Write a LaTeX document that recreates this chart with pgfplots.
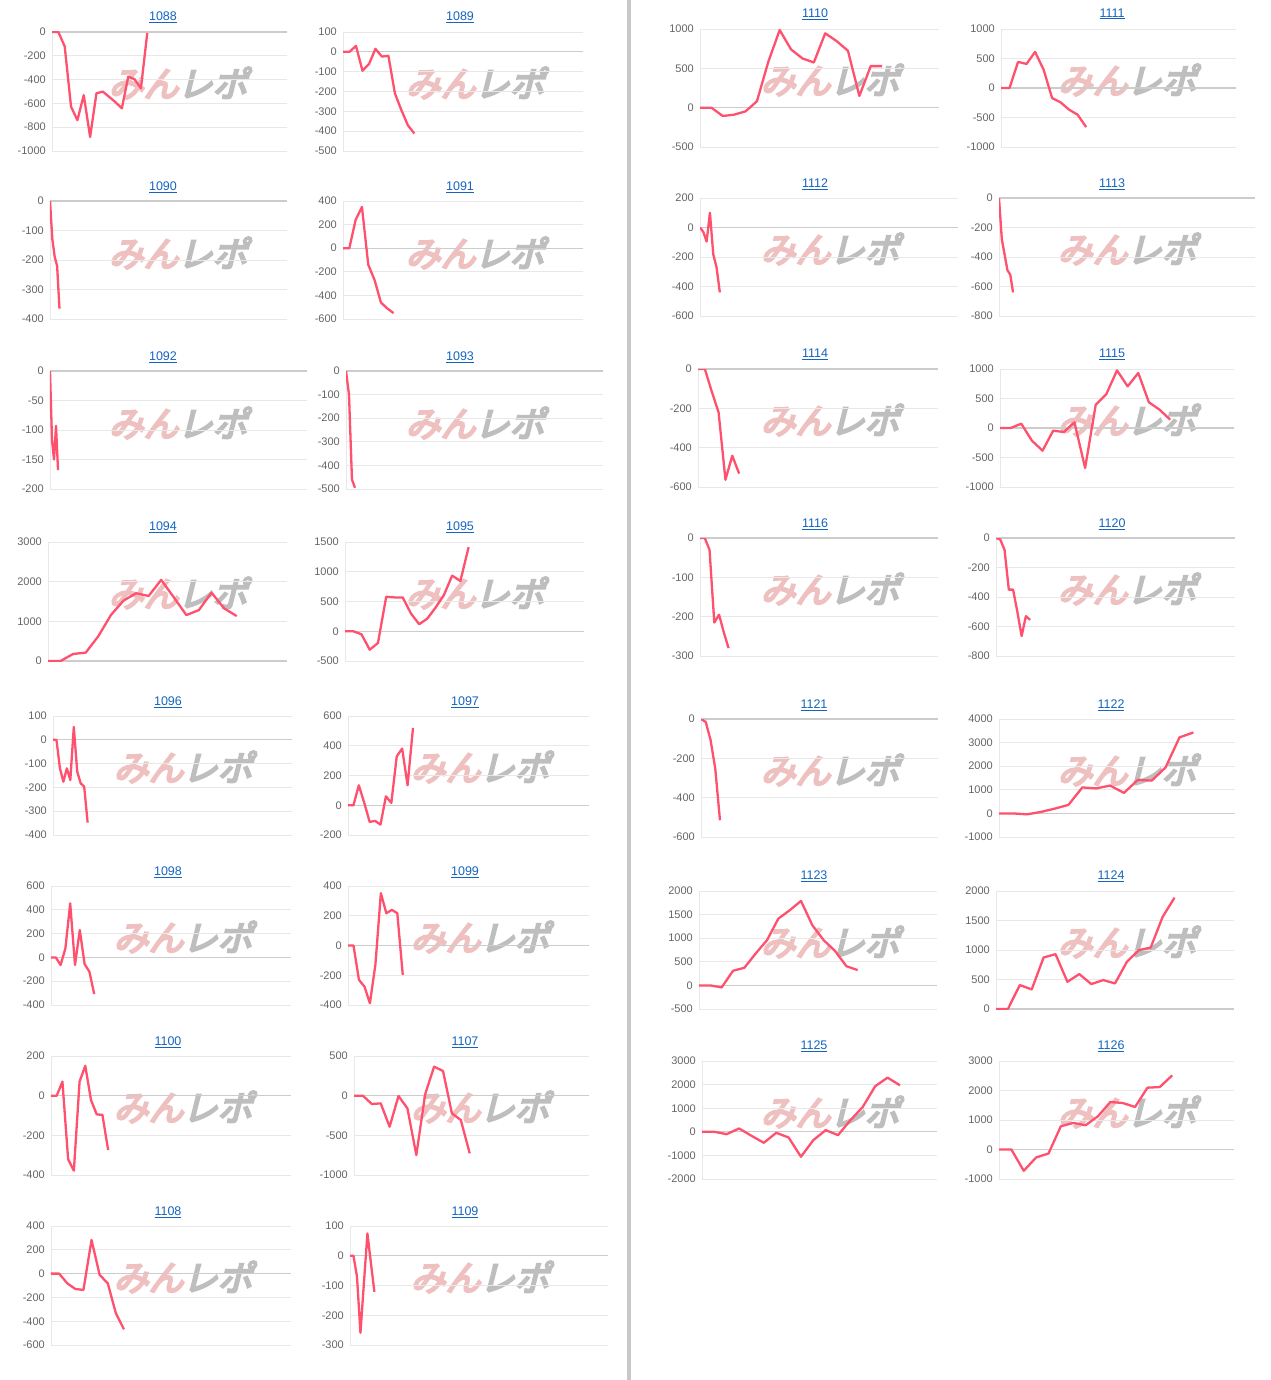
\documentclass[border=0pt]{standalone}
\usepackage{fontspec}
\setmainfont{Liberation Sans}
\newfontfamily\jp[FakeSlant=0.25, FakeBold=6]{Noto Sans CJK JP}
\usepackage{pgfplots}
\pgfplotsset{compat=1.18}
\definecolor{gridc}{RGB}{232,232,232}
\definecolor{zeroc}{RGB}{204,204,204}
\definecolor{tickc}{RGB}{102,102,102}
\definecolor{linec}{RGB}{255,80,110}
\definecolor{titlec}{RGB}{21,101,192}
\definecolor{sepc}{RGB}{200,200,200}
\definecolor{wmpink}{RGB}{238,192,192}
\definecolor{wmgray}{RGB}{190,190,190}
\pgfplotsset{
  mc/.style={scale only axis, anchor=south west, xmin=0,
    axis x line=none, axis y line=left,
    axis line style={-, draw=gridc, line width=0.9pt},
    ymajorgrids, grid style={draw=gridc, line width=0.9pt},
    major tick length=0pt, tick style={draw=none},
    /pgf/number format/assume math mode=true,
    /pgf/number format/1000 sep={},
    yticklabel style={font=\fontsize{11}{11}\selectfont, text=tickc, inner sep=2pt, xshift=-4pt},
    extra y ticks={0}, extra y tick labels={},
    extra y tick style={grid style={draw=zeroc, line width=1.3pt}},
  },
  mcbox/.style n args={4}{at={(#1pt,-#2pt)}, width=#3pt, height=#4pt},
  ml/.style={color=linec, line width=2.3pt, line join=round, mark=none},
}
\tikzset{ttl/.style={font=\fontsize{12.5}{12.5}\selectfont, text=titlec, inner sep=0pt}}
\newcommand{\ttl}[3]{\node[ttl] at (#1pt,-#2pt-2pt) {\underline{#3}};}
\newcommand{\wm}[2]{\node[inner sep=0pt, font=\jp\fontsize{35}{35}\selectfont] at (#1pt,-#2pt) {\textcolor{wmpink}{みん}\kern-1pt\textcolor{wmgray}{レポ}};}
\begin{document}
\begin{tikzpicture}
\useasboundingbox (0,0) rectangle (1270pt,-1380pt);
\fill[white] (0,0) rectangle (1270pt,-1380pt);
\fill[sepc] (627pt,0) rectangle (631pt,-1380pt);

% ---------- left block ----------
% 1088
\wm{178}{83}
\begin{axis}[mc, mcbox={52}{151}{235}{119}, xmax=37, ymin=-1000, ymax=0, ytick={-1000,-800,...,0}]
\addplot[ml] coordinates {(0,0)(1,0)(2,-121)(3,-628)(4,-741)(5,-530)(6,-882)(7,-515)(8,-501)(9,-545)(10,-590)(11,-642)(12,-375)(13,-397)(14,-473)(15,-8)};
\end{axis}
\ttl{163}{15}{1088}
% 1089
\wm{475}{83}
\begin{axis}[mc, mcbox={343}{151}{240}{119}, xmax=37, ymin=-500, ymax=100, ytick={-500,-400,...,100}]
\addplot[ml] coordinates {(0,0)(1,0)(2,30)(3,-95)(4,-62)(5,15)(6,-24)(7,-20)(8,-209)(9,-294)(10,-370)(11,-412)};
\end{axis}
\ttl{460}{15}{1089}
% 1090
\wm{178}{253}
\begin{axis}[mc, mcbox={50}{319}{237}{118}, xmax=100, ymin=-400, ymax=0, ytick={-400,-300,...,0}]
\addplot[ml] coordinates {(0,0)(1,-130)(2,-190)(3,-220)(4,-365)};
\end{axis}
\ttl{163}{185}{1090}
% 1091
\wm{475}{253}
\begin{axis}[mc, mcbox={343}{319}{240}{118}, xmax=38, ymin=-600, ymax=400, ytick={-600,-400,...,400}]
\addplot[ml] coordinates {(0,0)(1,0)(2,240)(3,350)(4,-140)(5,-270)(6,-460)(7,-510)(8,-550)};
\end{axis}
\ttl{460}{185}{1091}
% 1092
\wm{178}{423}
\begin{axis}[mc, mcbox={50}{489}{257}{118}, xmax=128, ymin=-200, ymax=0, ytick={-200,-150,...,0}]
\addplot[ml] coordinates {(0,0)(1,-117)(2,-150)(3,-93)(4,-168)};
\end{axis}
\ttl{163}{355}{1092}
% 1093
\wm{475}{423}
\begin{axis}[mc, mcbox={346}{489}{257}{118}, xmax=86, ymin=-500, ymax=0, ytick={-500,-400,...,0}]
\addplot[ml] coordinates {(0,0)(1,-100)(2,-460)(3,-495)};
\end{axis}
\ttl{460}{355}{1093}
% 1094
\wm{178}{593}
\begin{axis}[mc, mcbox={48}{661}{239}{119}, xmax=19, ymin=0, ymax=3000, ytick={0,1000,2000,3000}]
\addplot[ml] coordinates {(0,0)(1,0)(2,178)(3,211)(4,625)(5,1158)(6,1522)(7,1708)(8,1640)(9,2046)(10,1606)(11,1158)(12,1285)(13,1724)(14,1327)(15,1133)};
\end{axis}
\ttl{163}{525}{1094}
% 1095
\wm{475}{593}
\begin{axis}[mc, mcbox={345}{661}{239}{119}, xmax=29, ymin=-500, ymax=1500, ytick={-500,0,500,1000,1500}]
\addplot[ml] coordinates {(0,0)(1,0)(2,-51)(3,-310)(4,-197)(5,580)(6,569)(7,569)(8,299)(9,118)(10,214)(11,400)(12,608)(13,935)(14,845)(15,1414)};
\end{axis}
\ttl{460}{525}{1095}
% 1096
\wm{183}{767}
\begin{axis}[mc, mcbox={53}{835}{239}{119}, xmax=69, ymin=-400, ymax=100, ytick={-400,-300,...,100}]
\addplot[ml] coordinates {(0,0)(1,0)(2,-120)(3,-176)(4,-120)(5,-169)(6,54)(7,-134)(8,-183)(9,-197)(10,-348)};
\end{axis}
\ttl{168}{700}{1096}
% 1097
\wm{480}{767}
\begin{axis}[mc, mcbox={348}{835}{241}{119}, xmax=44.5, ymin=-200, ymax=600, ytick={-200,0,...,600}]
\addplot[ml] coordinates {(0,0)(1,0)(2,134)(3,16)(4,-112)(5,-105)(6,-130)(7,60)(8,16)(9,329)(10,381)(11,134)(12,520)};
\end{axis}
\ttl{465}{700}{1097}
% 1098
\wm{183}{937}
\begin{axis}[mc, mcbox={51}{1005}{240}{119}, xmax=50, ymin=-400, ymax=600, ytick={-400,-200,...,600}]
\addplot[ml] coordinates {(0,0)(1,0)(2,-64)(3,76)(4,454)(5,-64)(6,230)(7,-56)(8,-120)(9,-308)};
\end{axis}
\ttl{168}{870}{1098}
% 1099
\wm{480}{937}
\begin{axis}[mc, mcbox={348}{1005}{241}{119}, xmax=44, ymin=-400, ymax=400, ytick={-400,-200,...,400}]
\addplot[ml] coordinates {(0,0)(1,0)(2,-231)(3,-276)(4,-388)(5,-130)(6,352)(7,217)(8,240)(9,217)(10,-197)};
\end{axis}
\ttl{465}{870}{1099}
% 1100
\wm{183}{1107}
\begin{axis}[mc, mcbox={51}{1175}{240}{119}, xmax=42, ymin=-400, ymax=200, ytick={-400,-200,0,200}]
\addplot[ml] coordinates {(0,0)(1,0)(2,71)(3,-321)(4,-378)(5,71)(6,151)(7,-22)(8,-94)(9,-97)(10,-274)};
\end{axis}
\ttl{168}{1040}{1100}
% 1107
\wm{480}{1107}
\begin{axis}[mc, mcbox={354}{1175}{235}{119}, xmax=26.4, ymin=-1000, ymax=500, ytick={-1000,-500,0,500}]
\addplot[ml] coordinates {(0,0)(1,0)(2,-105)(3,-97)(4,-391)(5,-4)(6,-160)(7,-748)(8,21)(9,366)(10,311)(11,-223)(12,-307)(13,-727)};
\end{axis}
\ttl{465}{1040}{1107}
% 1108
\wm{183}{1277}
\begin{axis}[mc, mcbox={51}{1345}{240}{119}, xmax=29.6, ymin=-600, ymax=400, ytick={-600,-400,...,400}]
\addplot[ml] coordinates {(0,0)(1,0)(2,-81)(3,-129)(4,-137)(5,283)(6,-11)(7,-81)(8,-333)(9,-468)};
\end{axis}
\ttl{168}{1210}{1108}
% 1109
\wm{480}{1277}
\begin{axis}[mc, mcbox={350}{1345}{258}{119}, xmax=74, ymin=-300, ymax=100, ytick={-300,-200,...,100}]
\addplot[ml] coordinates {(0,0)(1,0)(2,-70)(3,-259)(4,-90)(5,75)(6,-25)(7,-121)};
\end{axis}
\ttl{465}{1210}{1109}

% ---------- right block ----------
% 1110
\wm{830}{80}
\begin{axis}[mc, mcbox={700}{147}{239}{118}, xmax=21, ymin=-500, ymax=1000, ytick={-500,0,500,1000}]
\addplot[ml] coordinates {(0,0)(1,0)(2,-106)(3,-89)(4,-47)(5,81)(6,583)(7,987)(8,740)(9,626)(10,574)(11,945)(12,847)(13,723)(14,149)(15,528)(16,528)};
\end{axis}
\ttl{815}{12}{1110}
% 1111
\wm{1127}{80}
\begin{axis}[mc, mcbox={1001}{147}{235}{118}, xmax=27.6, ymin=-1000, ymax=1000, ytick={-1000,-500,...,1000}]
\addplot[ml] coordinates {(0,0)(1,0)(2,442)(3,408)(4,612)(5,312)(6,-170)(7,-244)(8,-368)(9,-453)(10,-663)};
\end{axis}
\ttl{1112}{12}{1111}
% 1112
\wm{830}{249}
\begin{axis}[mc, mcbox={700}{316}{258}{118}, xmax=78, ymin=-600, ymax=200, ytick={-600,-400,...,200}]
\addplot[ml] coordinates {(0,0)(1,-30)(2,-95)(3,100)(4,-180)(5,-270)(6,-440)};
\end{axis}
\ttl{815}{182}{1112}
% 1113
\wm{1127}{249}
\begin{axis}[mc, mcbox={999}{316}{256}{118}, xmax=91, ymin=-800, ymax=0, ytick={-800,-600,...,0}]
\addplot[ml] coordinates {(0,0)(1,-280)(2,-385)(3,-490)(4,-520)(5,-640)};
\end{axis}
\ttl{1112}{182}{1113}
% 1114
\wm{830}{420}
\begin{axis}[mc, mcbox={698}{487}{240}{118}, xmax=35, ymin=-600, ymax=0, ytick={-600,-400,...,0}]
\addplot[ml] coordinates {(0,0)(1,0)(2,-114)(3,-220)(4,-563)(5,-441)(6,-532)};
\end{axis}
\ttl{815}{352}{1114}
% 1115
\wm{1127}{420}
\begin{axis}[mc, mcbox={1000}{487}{234}{118}, xmax=22, ymin=-1000, ymax=1000, ytick={-1000,-500,...,1000}]
\addplot[ml] coordinates {(0,0)(1,0)(2,73)(3,-215)(4,-384)(5,-45)(6,-68)(7,96)(8,-678)(9,395)(10,576)(11,977)(12,706)(13,932)(14,435)(15,311)(16,141)};
\end{axis}
\ttl{1112}{352}{1115}
% 1116
\wm{830}{589}
\begin{axis}[mc, mcbox={700}{656}{238}{118}, xmax=50, ymin=-300, ymax=0, ytick={-300,-200,...,0}]
\addplot[ml] coordinates {(0,0)(1,0)(2,-30)(3,-215)(4,-195)(5,-240)(6,-280)};
\end{axis}
\ttl{815}{522}{1116}
% 1120
\wm{1127}{589}
\begin{axis}[mc, mcbox={996}{656}{239}{118}, xmax=56, ymin=-800, ymax=0, ytick={-800,-600,...,0}]
\addplot[ml] coordinates {(0,0)(1,-10)(2,-80)(3,-350)(4,-350)(5,-500)(6,-665)(7,-530)(8,-555)};
\end{axis}
\ttl{1112}{522}{1120}
% 1121
\wm{830}{770}
\begin{axis}[mc, mcbox={701}{837}{237}{118}, xmax=50, ymin=-600, ymax=0, ytick={-600,-400,...,0}]
\addplot[ml] coordinates {(0,0)(1,-15)(2,-105)(3,-250)(4,-515)};
\end{axis}
\ttl{814}{703}{1121}
% 1122
\wm{1127}{770}
\begin{axis}[mc, mcbox={999}{837}{236}{118}, xmax=17, ymin=-1000, ymax=4000, ytick={-1000,0,...,4000}]
\addplot[ml] coordinates {(0,0)(1,0)(2,-40)(3,60)(4,200)(5,360)(6,1100)(7,1060)(8,1180)(9,870)(10,1420)(11,1390)(12,1950)(13,3220)(14,3430)};
\end{axis}
\ttl{1111}{703}{1122}
% 1123
\wm{830}{942}
\begin{axis}[mc, mcbox={699}{1009}{238}{118}, xmax=21, ymin=-500, ymax=2000, ytick={-500,0,...,2000}]
\addplot[ml] coordinates {(0,0)(1,0)(2,-42)(3,310)(4,373)(5,676)(6,958)(7,1415)(8,1592)(9,1789)(10,1275)(11,958)(12,732)(13,408)(14,324)};
\end{axis}
\ttl{814}{874}{1123}
% 1124
\wm{1127}{942}
\begin{axis}[mc, mcbox={996}{1009}{238}{118}, xmax=20, ymin=0, ymax=2000, ytick={0,500,...,2000}]
\addplot[ml] coordinates {(0,0)(1,0)(2,406)(3,332)(4,873)(5,930)(6,462)(7,592)(8,423)(9,490)(10,434)(11,800)(12,997)(13,1042)(14,1561)(15,1887)};
\end{axis}
\ttl{1111}{874}{1124}
% 1125
\wm{830}{1112}
\begin{axis}[mc, mcbox={702}{1179}{235}{118}, xmax=19, ymin=-2000, ymax=3000, ytick={-2000,-1000,...,3000}]
\addplot[ml] coordinates {(0,0)(1,0)(2,-99)(3,141)(4,-169)(5,-465)(6,-42)(7,-239)(8,-1056)(9,-352)(10,70)(11,-141)(12,493)(13,1056)(14,1930)(15,2296)(16,1972)};
\end{axis}
\ttl{814}{1044}{1125}
% 1126
\wm{1127}{1112}
\begin{axis}[mc, mcbox={999}{1179}{235}{118}, xmax=19, ymin=-1000, ymax=3000, ytick={-1000,0,...,3000}]
\addplot[ml] coordinates {(0,0)(1,0)(2,-721)(3,-270)(4,-135)(5,789)(6,901)(7,823)(8,1127)(9,1611)(10,1577)(11,1442)(12,2096)(13,2118)(14,2513)};
\end{axis}
\ttl{1111}{1044}{1126}
\end{tikzpicture}
\end{document}
